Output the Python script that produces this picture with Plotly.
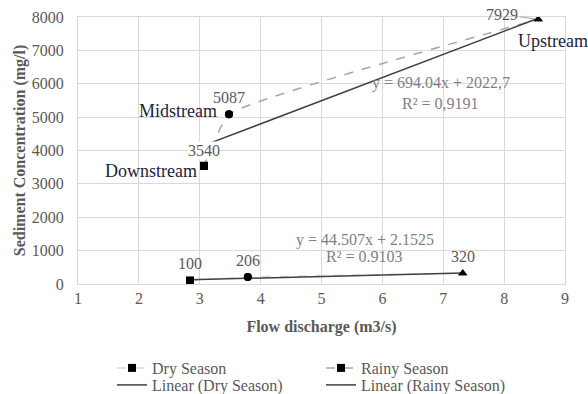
import plotly.graph_objects as go

# ---- data ----
stations = ["Downstream", "Midstream", "Upstream"]
dry_flow = [2.84, 3.79, 7.32]
dry_conc = [100, 206, 320]
rainy_flow = [3.07, 3.48, 8.56]
rainy_conc = [3540, 5087, 7929]
dry_slope, dry_icpt, dry_r2 = 44.507, 2.1525, "0.9103"
rainy_slope, rainy_icpt, rainy_r2 = 694.04, 2022.7, "0,9191"
x_ticks = [1, 2, 3, 4, 5, 6, 7, 8, 9]
y_ticks = [0, 1000, 2000, 3000, 4000, 5000, 6000, 7000, 8000]
symbols = ["square", "circle", "triangle-up"]

SERIF = "Liberation Serif"
GRAY = "#595959"
FS = 16

fig = go.Figure()

fig.add_trace(go.Scatter(
    x=dry_flow, y=dry_conc, mode="lines+markers", name="Dry Season", legend="legend",
    line=dict(color="#d9d9d9", width=1.5, dash="dash", shape="spline", smoothing=0.35),
    marker=dict(symbol=symbols, size=8, color="black"),
))
fig.add_trace(go.Scatter(
    x=rainy_flow, y=rainy_conc, mode="lines+markers", name="Rainy Season", legend="legend",
    line=dict(color="#a6a6a6", width=1.5, dash="dash", shape="spline", smoothing=0.35),
    marker=dict(symbol=symbols, size=8, color="black"),
))
dry_tx = [min(dry_flow), max(dry_flow)]
fig.add_trace(go.Scatter(
    x=dry_tx, y=[dry_slope * v + dry_icpt for v in dry_tx], mode="lines",
    name="Linear (Dry Season)", legend="legend2", line=dict(color="#404040", width=1.5),
))
rainy_tx = [min(rainy_flow), max(rainy_flow)]
fig.add_trace(go.Scatter(
    x=rainy_tx, y=[rainy_slope * v + rainy_icpt for v in rainy_tx], mode="lines",
    name="Linear (Rainy Season)", legend="legend2", line=dict(color="#404040", width=1.5),
))
# re-draw markers on top
for fx, fy in ((dry_flow, dry_conc), (rainy_flow, rainy_conc)):
    fig.add_trace(go.Scatter(x=fx, y=fy, mode="markers", showlegend=False,
                             marker=dict(symbol=symbols, size=8, color="black"),
                             hoverinfo="skip"))

ann = []
lab_font = dict(family=SERIF, size=FS, color=GRAY)
name_font = dict(family=SERIF, size=18, color="#1c2340")
# dry value labels
for xv, yv in zip(dry_flow, dry_conc):
    ann.append(dict(x=xv, y=yv, text=str(yv), showarrow=False, yshift=17, font=lab_font))
# rainy value labels
ann.append(dict(x=rainy_flow[0], y=rainy_conc[0], text=str(rainy_conc[0]), showarrow=False,
                yshift=15, font=lab_font, bgcolor="white", borderpad=0))
ann.append(dict(x=rainy_flow[1], y=rainy_conc[1], text=str(rainy_conc[1]), showarrow=False,
                yshift=17, font=lab_font))
ann.append(dict(x=rainy_flow[2], y=rainy_conc[2], text=str(rainy_conc[2]), showarrow=True,
                arrowhead=0, arrowwidth=1, arrowcolor="#a6a6a6", ax=-36, ay=-5,
                standoff=3, font=lab_font))
# station names
ann.append(dict(x=rainy_flow[1], y=rainy_conc[1], text=stations[1], showarrow=False,
                xanchor="right", xshift=-10, yshift=3, font=name_font))
ann.append(dict(x=rainy_flow[0], y=rainy_conc[0], text=stations[0], showarrow=False,
                xanchor="right", xshift=-5, yshift=-5, font=name_font))
ann.append(dict(x=rainy_flow[2], y=rainy_conc[2], text=stations[2], showarrow=False,
                xanchor="left", xshift=-22, yshift=-22, font=name_font))
# equations
eq_font = dict(family=SERIF, size=FS, color="#7f7f7f")
ann.append(dict(x=6.96, y=6020, text=f"y = {rainy_slope:.2f}x + {str(rainy_icpt).replace('.', ',')}",
                showarrow=False, font=eq_font))
ann.append(dict(x=6.96, y=5420, text=f"R² = {rainy_r2}", showarrow=False, font=eq_font))
ann.append(dict(x=5.71, y=1320, text=f"y = {dry_slope}x + {dry_icpt}", showarrow=False, font=eq_font))
ann.append(dict(x=5.71, y=810, text=f"R² = {dry_r2}", showarrow=False, font=eq_font))

leg_common = dict(orientation="h", xref="container", yref="container",
                  xanchor="left", yanchor="middle", x=112 / 588,
                  entrywidth=164, entrywidthmode="pixels", itemwidth=30,
                  font=dict(family=SERIF, size=FS, color=GRAY), bgcolor="rgba(0,0,0,0)")

fig.update_layout(
    width=588, height=394,
    margin=dict(l=78, r=23, t=17, b=110, autoexpand=False),
    paper_bgcolor="white", plot_bgcolor="white",
    font=dict(family=SERIF, size=FS, color=GRAY),
    annotations=ann,
    showlegend=True,
    legend=dict(leg_common, y=(394 - 368) / 394),
    legend2=dict(leg_common, y=(394 - 385) / 394),
    xaxis=dict(range=[1, 9], tickvals=x_ticks, showgrid=True, gridcolor="#d9d9d9",
               zeroline=False, showline=True, linecolor="#d9d9d9", mirror=True,
               ticks="", tickfont=dict(family=SERIF, size=FS, color=GRAY),
               title=dict(text="<b>Flow discharge (m3/s)</b>", standoff=14,
                          font=dict(family=SERIF, size=FS, color=GRAY))),
    yaxis=dict(range=[0, 8000], tickvals=y_ticks, showgrid=True, gridcolor="#d9d9d9",
               zeroline=False, showline=True, linecolor="#d9d9d9", mirror=True,
               ticks="", ticklabelstandoff=10, tickfont=dict(family=SERIF, size=FS, color=GRAY),
               title=dict(text="<b>Sediment Concentration (mg/l)</b>", standoff=2,
                          font=dict(family=SERIF, size=FS, color=GRAY))),
)

fig.write_html("out.html")
